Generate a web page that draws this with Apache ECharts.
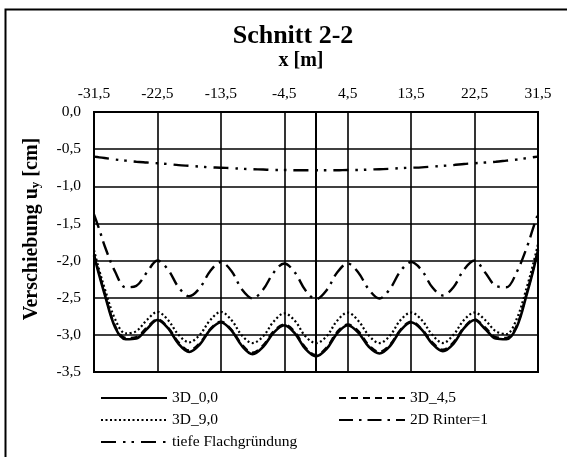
<!DOCTYPE html>
<html>
<head>
<meta charset="utf-8">
<script src="https://cdn.jsdelivr.net/npm/echarts@6/dist/echarts.min.js"></script>
<style>
  html, body { margin: 0; padding: 0; background: #fff; }
  #chart { width: 567px; height: 457px; }
</style>
</head>
<body>
<div id="chart"></div>
<script>
// Positions along the section (m)
const xPositions = [-31.5, -30.75, -30, -28.5, -27, -25.5, -24, -22.5, -21, -19.5, -18, -16.5, -15, -13.5, -12, -10.5, -9, -7.5, -6, -4.5, -3, -1.5, 0,
  1.5, 3, 4.5, 6, 7.5, 9, 10.5, 12, 13.5, 15, 16.5, 18, 19.5, 21, 22.5, 24, 25.5, 27, 28.5, 30, 30.75, 31.5];

// Vertical displacement u_y (cm)
const uy3D_00 = [-1.93, -2.20, -2.45, -2.90, -3.06, -3.05, -2.92, -2.80, -2.91, -3.12, -3.23, -3.13, -2.93, -2.83, -2.94, -3.15, -3.26, -3.16, -2.97, -2.87, -2.98, -3.19, -3.29,
  -3.19, -2.98, -2.87, -2.97, -3.16, -3.25, -3.15, -2.94, -2.83, -2.93, -3.12, -3.22, -3.12, -2.91, -2.80, -2.92, -3.05, -3.06, -2.89, -2.42, -2.16, -1.86];
const uy3D_45 = [-1.92, -2.18, -2.43, -2.88, -3.04, -3.03, -2.90, -2.79, -2.90, -3.10, -3.21, -3.11, -2.92, -2.82, -2.93, -3.13, -3.24, -3.14, -2.95, -2.86, -2.96, -3.17, -3.27,
  -3.17, -2.96, -2.86, -2.95, -3.14, -3.23, -3.13, -2.93, -2.82, -2.92, -3.10, -3.20, -3.10, -2.90, -2.79, -2.90, -3.03, -3.04, -2.87, -2.40, -2.14, -1.84];
const uy3D_90 = [-1.86, -2.13, -2.37, -2.79, -2.98, -2.95, -2.80, -2.69, -2.80, -3.00, -3.10, -3.00, -2.80, -2.69, -2.80, -3.01, -3.11, -3.02, -2.82, -2.71, -2.81, -3.02, -3.11,
  -3.02, -2.81, -2.70, -2.81, -3.01, -3.11, -3.01, -2.80, -2.70, -2.80, -3.00, -3.11, -3.00, -2.80, -2.70, -2.80, -2.95, -2.99, -2.78, -2.33, -2.07, -1.78];
const uy2D = [-1.38, -1.58, -1.80, -2.15, -2.36, -2.34, -2.16, -2.00, -2.12, -2.36, -2.48, -2.37, -2.14, -2.02, -2.14, -2.39, -2.51, -2.39, -2.16, -2.04, -2.16, -2.40, -2.52,
  -2.40, -2.16, -2.04, -2.16, -2.39, -2.51, -2.38, -2.14, -2.02, -2.13, -2.36, -2.47, -2.36, -2.12, -2.00, -2.16, -2.34, -2.36, -2.15, -1.80, -1.58, -1.37];
const uyTief = [-0.60, -0.61, -0.62, -0.64, -0.655, -0.67, -0.68, -0.69, -0.70, -0.715, -0.725, -0.735, -0.745, -0.75, -0.755, -0.765, -0.77, -0.775, -0.78, -0.78, -0.785, -0.785, -0.785,
  -0.785, -0.785, -0.78, -0.78, -0.775, -0.77, -0.765, -0.755, -0.75, -0.745, -0.735, -0.725, -0.715, -0.70, -0.69, -0.68, -0.67, -0.655, -0.64, -0.62, -0.61, -0.60];

const seriesNames = ['3D_0,0', '3D_4,5', '3D_9,0', '2D Rinter=1', 'tiefe Flachgründung'];

const SERIF = '"Liberation Serif", "Times New Roman", serif';
const fmtComma = v => Number(v).toFixed(1).replace('.', ',');
const pairs = ys => xPositions.map((x, i) => [x, ys[i]]);

function lineSeries(name, ys, width, dash, extra) {
  return Object.assign({
    name: name,
    type: 'line',
    data: pairs(ys),
    smooth: 0.35,
    symbol: 'circle',
    showSymbol: false,
    symbolSize: 0,
    silent: true,
    itemStyle: { color: '#000' },
    lineStyle: { color: '#000', width: width, type: dash, cap: 'butt' }
  }, extra || {});
}

const chart = echarts.init(document.getElementById('chart'), null, { renderer: 'canvas' });

chart.setOption({
  animation: false,
  backgroundColor: '#fff',
  title: {
    text: 'Schnitt 2-2',
    left: 288,
    textAlign: 'center',
    top: 18,
    textStyle: { fontFamily: SERIF, fontWeight: 'bold', fontSize: 26, color: '#000' }
  },
  graphic: [{
    type: 'polyline',
    shape: { points: [[5.5, 470], [5.5, 9.5], [590, 9.5]] },
    style: { stroke: '#000', lineWidth: 2, fill: null },
    silent: true
  }],
  grid: { left: 94, right: 29, top: 112, bottom: 85, show: true, borderColor: '#000', borderWidth: 2 },
  xAxis: {
    type: 'value',
    position: 'top',
    min: -31.5,
    max: 31.5,
    interval: 9,
    name: 'x [m]',
    nameLocation: 'middle',
    nameGap: 41,
    nameTextStyle: { fontFamily: SERIF, fontWeight: 'bold', fontSize: 20, color: '#000', padding: [0, 30, 0, 0] },
    axisLine: { show: true, lineStyle: { color: '#000', width: 2 } },
    axisTick: { show: false },
    axisLabel: { fontFamily: SERIF, fontSize: 15.5, color: '#000', margin: 10, formatter: fmtComma },
    splitLine: { show: true, lineStyle: { color: '#000', width: 1.6 } }
  },
  yAxis: {
    type: 'value',
    min: -3.5,
    max: 0,
    interval: 0.5,
    name: 'Verschiebung u{sub|y} [cm]',
    nameLocation: 'middle',
    nameGap: 52,
    nameTextStyle: {
      fontFamily: SERIF, fontWeight: 'bold', fontSize: 20, color: '#000',
      padding: [0, 0, 0, 26],
      rich: { sub: { fontFamily: SERIF, fontWeight: 'bold', fontSize: 13, color: '#000', verticalAlign: 'bottom', padding: [8, 0, 0, 0] } }
    },
    axisLine: { show: true, onZero: false, lineStyle: { color: '#000', width: 2 } },
    axisTick: { show: false },
    axisLabel: { fontFamily: SERIF, fontSize: 15.5, color: '#000', margin: 13, formatter: fmtComma },
    splitLine: { show: true, lineStyle: { color: '#000', width: 1.6 } }
  },
  legend: {
    data: seriesNames,
    left: 95,
    top: 385,
    width: 480,
    orient: 'horizontal',
    itemWidth: 66,
    itemHeight: 15,
    itemGap: 6,
    selectedMode: false,
    itemStyle: { opacity: 0 },
    textStyle: { fontFamily: SERIF, fontSize: 15.5, color: '#000', width: 160, lineHeight: 15.5 }
  },
  series: [
    lineSeries(seriesNames[0], uy3D_00, 2.6, 'solid'),
    lineSeries(seriesNames[1], uy3D_45, 2.2, [7, 5]),
    lineSeries(seriesNames[2], uy3D_90, 2.2, [2, 2.5]),
    lineSeries(seriesNames[3], uy2D, 2.4, [14, 6, 2.5, 6]),
    lineSeries(seriesNames[4], uyTief, 2.4, [15, 7, 2.5, 6, 2.5, 7], {
      markLine: {
        silent: true,
        symbol: 'none',
        label: { show: false },
        lineStyle: { color: '#000', width: 2, type: 'solid' },
        data: [{ xAxis: 0 }]
      }
    })
  ]
});
</script>
</body>
</html>
